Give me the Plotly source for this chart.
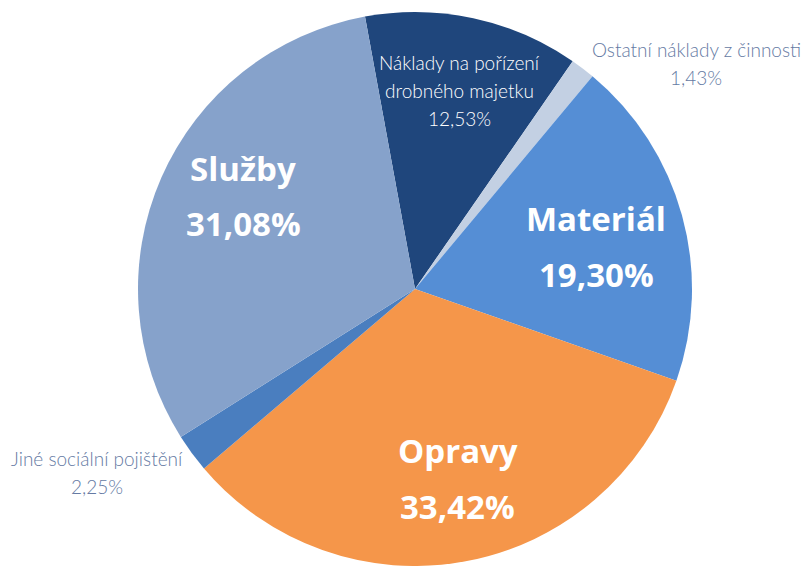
import plotly.graph_objects as go

# podíly nákladů (v %), pořadí po směru hodinových ručiček od 12 hodin
labels = ['Náklady na pořízení drobného majetku', 'Ostatní náklady z činnosti',
          'Materiál', 'Opravy', 'Jiné sociální pojištění', 'Služby']
values = [12.53, 1.43, 19.30, 33.42, 2.25, 31.08]
colors = ['#1f467c', '#c3d0e3', '#558ed5', '#f5964a', '#4a7ebf', '#86a2cb']

# popisky: (řádky názvu, styl, pozice středu v px)
label_lines = [['Náklady na pořízení', 'drobného majetku'], ['Ostatní náklady z činnosti'],
               ['Materiál'], ['Opravy'], ['Jiné sociální pojištění'], ['Služby']]
label_style = ['small_in', 'small_out', 'big', 'big', 'small_out', 'big']
label_pos = [(460, 62), (696, 50), (596, 218), (458, 450), (97, 458), (243, 168)]

W, H = 803, 566
cx, cy, r = 415, 290, 278

def fmt(v):
    return f'{v:.2f}'.replace('.', ',') + '%'

fig = go.Figure(go.Pie(
    labels=labels,
    values=values,
    sort=False,
    direction='clockwise',
    rotation=-10.4,
    marker=dict(colors=colors, line=dict(width=0)),
    textinfo='none',
    hoverinfo='label+percent',
    showlegend=False,
    domain=dict(x=[(cx - r) / W, (cx + r) / W], y=[0, 1 - (cy - r) / H]),
))

annotations = []
for lines, style, (px, py), v in zip(label_lines, label_style, label_pos, values):
    if style == 'big':
        font = dict(family='Open Sans', size=33, color='white', weight=700)
        step = 56
    elif style == 'small_in':
        font = dict(family='Lato', size=19, color='white', weight=300)
        step = 28
    else:
        font = dict(family='Lato', size=19, color='#657aa3', weight=300)
        step = 28
    for i, t in enumerate(lines + [fmt(v)]):
        annotations.append(dict(
            x=px / W, y=1 - (py + i * step) / H, xref='paper', yref='paper',
            text=t, showarrow=False, xanchor='center', yanchor='middle', font=font,
        ))

fig.update_layout(
    width=W, height=H,
    margin=dict(l=0, r=0, t=0, b=0),
    paper_bgcolor='white',
    plot_bgcolor='white',
    annotations=annotations,
)

fig.write_html('out.html', config={'displayModeBar': False},
               post_script="document.body.style.margin='0';")
